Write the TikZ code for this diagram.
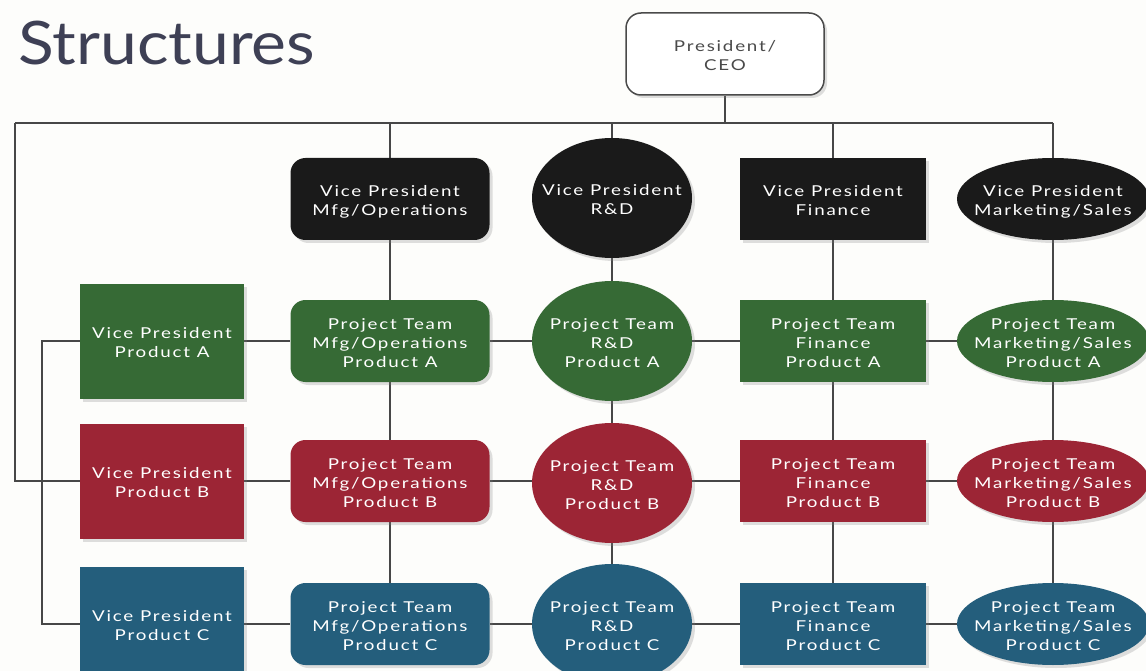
\documentclass[tikz,border=0pt]{standalone}
\usepackage{fontspec}
\setmainfont{Lato}
\newfontfamily\boxfont[FakeStretch=1.25,LetterSpace=12]{Lato}
\newfontfamily\titlefont[FakeStretch=1.1]{Lato}
\usetikzlibrary{shapes.geometric,shadows,backgrounds}

\definecolor{pagebg}{HTML}{FDFDFB}
\definecolor{teamgreen}{HTML}{366A35}
\definecolor{teamred}{HTML}{9C2535}
\definecolor{teamblue}{HTML}{245E7C}
\definecolor{vpblack}{HTML}{1A1A1A}
\definecolor{wire}{HTML}{474747}
\definecolor{titleink}{HTML}{3E4055}
\definecolor{ceoink}{HTML}{4A4A4A}

% centred multi-line label that does not influence the node size
\newcommand{\boxtext}[1]{\makebox[0pt]{\smash{\lower7pt\hbox{\begin{tabular}[c]{@{}c@{}}#1\end{tabular}}}}}

\tikzset{
  base/.style={inner sep=0pt, text=white,
    font=\boxfont\fontsize{15}{19}\selectfont,
    drop shadow={shadow xshift=3pt, shadow yshift=-3pt, opacity=0.25}},
  roundbox/.style={base, rectangle, rounded corners=15pt, minimum width=199pt, minimum height=82pt},
  finbox/.style={base, rectangle, minimum width=186pt, minimum height=82pt},
  prodbox/.style={base, rectangle, minimum width=164pt, minimum height=115pt},
  rdell/.style={base, ellipse, minimum width=160pt, minimum height=120pt},
  mktell/.style={base, ellipse, minimum width=192pt, minimum height=82pt},
  ceobox/.style={base, rectangle, rounded corners=15pt, minimum width=198pt, minimum height=82pt,
    draw=ceoink, line width=1.5pt, fill=white, text=ceoink},
  wireline/.style={draw=wire, line width=2pt}
}

\begin{document}
\begin{tikzpicture}[x=1pt, y=-1pt]
\useasboundingbox (0,0) rectangle (1146,671);

% title
\node[anchor=base west, inner sep=0pt, text=titleink, font=\titlefont\fontsize{60}{60}\selectfont] (title) at (18,65) {Structures};

% top of the hierarchy
\node[ceobox] (ceo) at (725,54) {\boxtext{President/\\CEO}};

% functional vice presidents
\node[roundbox, fill=vpblack] (vpMfg) at (390,199) {\boxtext{Vice President\\Mfg/Operations}};
\node[rdell,    fill=vpblack] (vpRD)  at (612,198) {\boxtext{Vice President\\R\&D}};
\node[finbox,   fill=vpblack] (vpFin) at (833,199) {\boxtext{Vice President\\Finance}};
\node[mktell,   fill=vpblack] (vpMkt) at (1053,199) {\boxtext{Vice President\\Marketing/Sales}};

% product A row
\node[prodbox,  fill=teamgreen] (vpA)  at (162,341) {\boxtext{Vice President\\Product A}};
\node[roundbox, fill=teamgreen] (mfgA) at (390,341) {\boxtext{Project Team\\Mfg/Operations\\Product A}};
\node[rdell,    fill=teamgreen] (rdA)  at (612,341) {\boxtext{Project Team\\R\&D\\Product A}};
\node[finbox,   fill=teamgreen] (finA) at (833,341) {\boxtext{Project Team\\Finance\\Product A}};
\node[mktell,   fill=teamgreen] (mktA) at (1053,341) {\boxtext{Project Team\\Marketing/Sales\\Product A}};

% product B row
\node[prodbox,  fill=teamred] (vpB)  at (162,481) {\boxtext{Vice President\\Product B}};
\node[roundbox, fill=teamred] (mfgB) at (390,481) {\boxtext{Project Team\\Mfg/Operations\\Product B}};
\node[rdell,    fill=teamred] (rdB)  at (612,483) {\boxtext{Project Team\\R\&D\\Product B}};
\node[finbox,   fill=teamred] (finB) at (833,481) {\boxtext{Project Team\\Finance\\Product B}};
\node[mktell,   fill=teamred] (mktB) at (1053,481) {\boxtext{Project Team\\Marketing/Sales\\Product B}};

% product C row
\node[prodbox,  fill=teamblue] (vpC)  at (162,624) {\boxtext{Vice President\\Product C}};
\node[roundbox, fill=teamblue] (mfgC) at (390,624) {\boxtext{Project Team\\Mfg/Operations\\Product C}};
\node[rdell,    fill=teamblue] (rdC)  at (612,624) {\boxtext{Project Team\\R\&D\\Product C}};
\node[finbox,   fill=teamblue] (finC) at (833,624) {\boxtext{Project Team\\Finance\\Product C}};
\node[mktell,   fill=teamblue] (mktC) at (1053,624) {\boxtext{Project Team\\Marketing/Sales\\Product C}};

\coordinate (busL) at (15,123);
\coordinate (busR) at (1053,123);

\begin{scope}[on background layer]
  \fill[pagebg] (0,0) rectangle (1146,671);
  % reporting bus under the CEO
  \draw[wireline] (ceo.south) -- (ceo.south |- busL);
  \draw[wireline] (busL) -- (busR);
  \draw[wireline] (busL) |- (vpB.west);
  \draw[wireline] (vpA.west) -- ++(-38,0) |- (vpC.west);
  % functional columns
  \draw[wireline] (vpMfg |- busL) -- (vpMfg) -- (mfgA) -- (mfgB) -- (mfgC);
  \draw[wireline] (vpRD |- busL) -- (vpRD) -- (rdA) -- (rdB) -- (rdC);
  \draw[wireline] (vpFin |- busL) -- (vpFin) -- (finA) -- (finB) -- (finC);
  \draw[wireline] (busR) -- (vpMkt) -- (mktA) -- (mktB) -- (mktC);
  % product rows
  \draw[wireline] (vpA) -- (mfgA) -- (rdA) -- (finA) -- (mktA);
  \draw[wireline] (vpB) -- (mfgB) -- (rdB.center |- vpB) -- (finB) -- (mktB);
  \draw[wireline] (vpC) -- (mfgC) -- (rdC) -- (finC) -- (mktC);
\end{scope}
\end{tikzpicture}
\end{document}
